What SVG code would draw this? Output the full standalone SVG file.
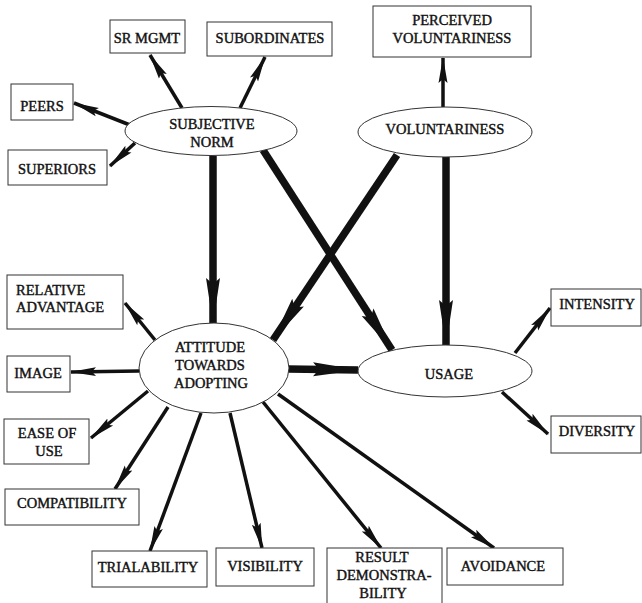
<svg xmlns="http://www.w3.org/2000/svg" width="642" height="603" viewBox="0 0 642 603">
<defs>
<style>
rect,ellipse{fill:#fff;stroke:#333;stroke-width:1}
text{font-family:'Liberation Serif','Times New Roman','DejaVu Serif',serif;font-size:14.5px;fill:#111;stroke:#111;stroke-width:0.4;text-anchor:middle}
.thin{stroke:#111;stroke-width:3.5;fill:none;marker-end:url(#ah)}
.thick{stroke:#111;stroke-width:7.5;fill:none;marker-end:url(#ahb)}
</style>
<marker id="ah" markerUnits="userSpaceOnUse" viewBox="0 -6 26 12" refX="25" refY="0" markerWidth="26" markerHeight="12" orient="auto">
<path d="M0,-4.5 L26,0 L0,4.5 L4,0 Z" fill="#111"/>
</marker>
<marker id="ahb" markerUnits="userSpaceOnUse" viewBox="0 -8 46 16" refX="45" refY="0" markerWidth="46" markerHeight="16" orient="auto">
<path d="M0,-7 L46,0 L0,7 L6,0 Z" fill="#111"/>
</marker>
</defs>
<rect x="0" y="0" width="642" height="603" style="fill:#fff;stroke:none"/>
<g id="connectors">
<line class="thin" x1="182" y1="108" x2="150" y2="55"/>
<line class="thin" x1="240" y1="108" x2="265" y2="57"/>
<line class="thin" x1="130" y1="125" x2="74" y2="103"/>
<line class="thin" x1="135" y1="143" x2="110" y2="166"/>
<line class="thin" x1="443" y1="107" x2="443" y2="58"/>
<line class="thick" x1="213" y1="156" x2="213" y2="323"/>
<line class="thick" x1="263" y1="150" x2="392" y2="350"/>
<line class="thick" x1="397" y1="155" x2="273" y2="340"/>
<line class="thick" x1="446" y1="157" x2="446" y2="345"/>
<line class="thick" x1="288" y1="369" x2="358" y2="370"/>
<line class="thin" x1="155" y1="340" x2="125" y2="303"/>
<line class="thin" x1="139" y1="371" x2="71" y2="372"/>
<line class="thin" x1="148" y1="391" x2="91" y2="438"/>
<line class="thin" x1="168" y1="407" x2="115" y2="489"/>
<line class="thin" x1="201" y1="413" x2="150" y2="551"/>
<line class="thin" x1="230" y1="413" x2="262" y2="548"/>
<line class="thin" x1="263" y1="402" x2="381" y2="548"/>
<line class="thin" x1="278" y1="394" x2="494" y2="548"/>
<line class="thin" x1="515" y1="353" x2="550" y2="308"/>
<line class="thin" x1="502" y1="392" x2="548" y2="434"/>
</g>
<g id="sr-mgmt"><rect x="110" y="20" width="75" height="33"/><text x="147" y="43">SR MGMT</text></g>
<g id="subordinates"><rect x="207" y="22" width="125" height="34"/><text x="270" y="43">SUBORDINATES</text></g>
<g id="peers"><rect x="11" y="84" width="62" height="36"/><text x="42" y="111">PEERS</text></g>
<g id="superiors"><rect x="8" y="150" width="99" height="35"/><text x="57" y="174">SUPERIORS</text></g>
<g id="subjective-norm"><ellipse cx="211" cy="131" rx="86" ry="24.5"/><text x="212" y="129">SUBJECTIVE</text><text x="212" y="147">NORM</text></g>
<g id="perceived-voluntariness"><rect x="373" y="6" width="158" height="51"/><text x="452" y="25">PERCEIVED</text><text x="452" y="43">VOLUNTARINESS</text></g>
<g id="voluntariness"><ellipse cx="445" cy="132" rx="87" ry="25"/><text x="445" y="134">VOLUNTARINESS</text></g>
<g id="relative-advantage"><rect x="7" y="275" width="116" height="54"/><text x="16" y="295" style="text-anchor:start">RELATIVE</text><text x="16" y="312" style="text-anchor:start">ADVANTAGE</text></g>
<g id="image"><rect x="7" y="356" width="63" height="36"/><text x="38" y="378">IMAGE</text></g>
<g id="attitude"><ellipse cx="214" cy="368" rx="75" ry="45"/><text x="210" y="352">ATTITUDE</text><text x="210" y="370">TOWARDS</text><text x="211" y="388">ADOPTING</text></g>
<g id="usage"><ellipse cx="445" cy="371" rx="87" ry="26"/><text x="449" y="379">USAGE</text></g>
<g id="intensity"><rect x="551" y="289" width="90" height="37"/><text x="597" y="309">INTENSITY</text></g>
<g id="diversity"><rect x="551" y="416" width="90" height="37"/><text x="597" y="436">DIVERSITY</text></g>
<g id="ease-of-use"><rect x="4" y="419" width="85" height="45"/><text x="47" y="438">EASE OF</text><text x="49" y="456">USE</text></g>
<g id="compatibility"><rect x="5" y="489" width="134" height="36"/><text x="72" y="508">COMPATIBILITY</text></g>
<g id="trialability"><rect x="92" y="551" width="115" height="36"/><text x="148" y="572">TRIALABILITY</text></g>
<g id="visibility"><rect x="216" y="548" width="98" height="38"/><text x="265" y="571">VISIBILITY</text></g>
<g id="result-demonstrability"><rect x="327" y="548" width="115" height="58"/><text x="382" y="562">RESULT</text><text x="384" y="580">DEMONSTRA-</text><text x="383" y="598">BILITY</text></g>
<g id="avoidance"><rect x="447" y="548" width="116" height="37"/><text x="503" y="571">AVOIDANCE</text></g>
</svg>
